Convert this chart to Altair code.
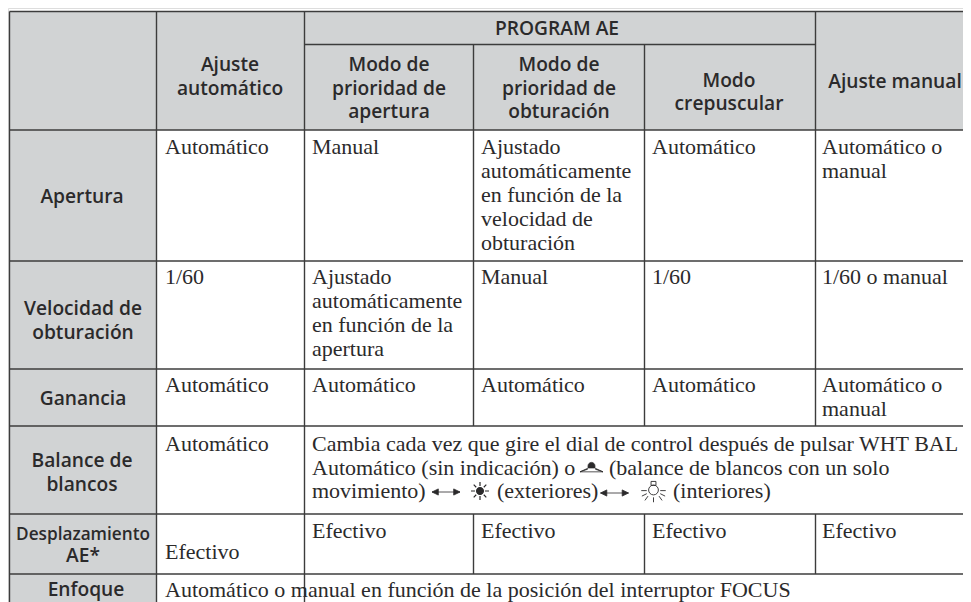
import altair as alt
import pandas as pd

SANS = "Open Sans"
SERIF = "Liberation Serif"
INK = "#2b2a2b"
GREY = "#d1d3d4"
LINE = "#3c3c3c"

# Table grid in picture units
col_edges = [9.5, 156.5, 304.5, 473.5, 644.5, 815.5, 963]
row_edges = [11.5, 44.5, 130, 261, 369, 426, 514, 574, 602]

shade_cells = [
    (col_edges[0], col_edges[1], row_edges[0], row_edges[8]),
    (col_edges[1], col_edges[6], row_edges[0], row_edges[2]),
]
h_rules = [
    (col_edges[0], col_edges[6], row_edges[0]),
    (col_edges[2], col_edges[5], row_edges[1]),
    (col_edges[0], col_edges[6], row_edges[2]),
    (col_edges[0], col_edges[6], row_edges[3]),
    (col_edges[0], col_edges[6], row_edges[4]),
    (col_edges[0], col_edges[6], row_edges[5]),
    (col_edges[0], col_edges[6], row_edges[6]),
    (col_edges[0], col_edges[6], row_edges[7]),
]
v_rules = [
    (col_edges[0], row_edges[0], row_edges[8]),
    (col_edges[1], row_edges[0], row_edges[8]),
    (col_edges[2], row_edges[0], row_edges[8]),
    (col_edges[3], row_edges[1], row_edges[5]),
    (col_edges[3], row_edges[6], row_edges[7]),
    (col_edges[4], row_edges[1], row_edges[5]),
    (col_edges[4], row_edges[6], row_edges[7]),
    (col_edges[5], row_edges[0], row_edges[5]),
    (col_edges[5], row_edges[6], row_edges[7]),
]

# header labels: text, centre x, baseline y
header_labels = [
    ("PROGRAM AE", 557, 35),
    ("Ajuste", 230, 71),
    ("automático", 230, 95),
    ("Modo de", 389, 71),
    ("prioridad de", 389, 95),
    ("apertura", 389, 118),
    ("Modo de", 559, 71),
    ("prioridad de", 559, 95),
    ("obturación", 559, 118),
    ("Modo", 729, 87),
    ("crepuscular", 729, 110),
    ("Ajuste manual", 895, 88),
    ("Apertura", 82, 203),
    ("Velocidad de", 83, 315),
    ("obturación", 83, 339),
    ("Ganancia", 83, 405),
    ("Balance de", 82, 467),
    ("blancos", 82, 491),
    ("AE*", 83, 562),
    ("Enfoque", 86, 596),
]
narrow_labels = [("Desplazamiento", 83, 540)]

# body labels: text, left x, baseline y
body_labels = [
    ("Automático", 165, 154),
    ("Manual", 312, 154),
    ("Ajustado", 481, 154),
    ("automáticamente", 481, 178),
    ("en función de la", 481, 202),
    ("velocidad de", 481, 226),
    ("obturación", 481, 250),
    ("Automático", 652, 154),
    ("Automático o", 822, 154),
    ("manual", 822, 178),
    ("1/60", 165, 284),
    ("Ajustado", 312, 284),
    ("automáticamente", 312, 308),
    ("en función de la", 312, 332),
    ("apertura", 312, 356),
    ("Manual", 481, 284),
    ("1/60", 652, 284),
    ("1/60 o manual", 822, 284),
    ("Automático", 165, 392),
    ("Automático", 312, 392),
    ("Automático", 481, 392),
    ("Automático", 652, 392),
    ("Automático o", 822, 392),
    ("manual", 822, 416),
    ("Automático", 165, 451),
    ("Cambia cada vez que gire el dial de control después de pulsar WHT BAL", 312, 451),
    ("Automático (sin indicación) o", 312, 475),
    ("(balance de blancos con un solo", 609, 475),
    ("movimiento)", 312, 498),
    ("(exteriores)", 497, 498),
    ("(interiores)", 673, 498),
    ("Efectivo", 312, 538),
    ("Efectivo", 481, 538),
    ("Efectivo", 652, 538),
    ("Efectivo", 822, 538),
    ("Efectivo", 165, 559),
    ("Automático o manual en función de la posición del interruptor FOCUS", 165, 597),
]

# icon positions: centre x, centre y
arrow_pos = [(446, 492), (614.5, 493)]
sun_pos = [(480, 491)]
bulb_pos = [(653.5, 490)]
wb_pos = [(591.5, 467)]

ARROW = "M-1,0H1M-1,0L-0.55,-0.22L-0.55,0.22ZM1,0L0.55,-0.22L0.55,0.22Z"
SUN = ("M-0.38,0A0.38,0.38 0 1,0 0.38,0A0.38,0.38 0 1,0 -0.38,0Z"
       "M0,-1V-0.55M0,0.55V1M-1,0H-0.55M0.55,0H1"
       "M-0.7,-0.7L-0.42,-0.42M0.42,0.42L0.7,0.7M-0.7,0.7L-0.42,0.42M0.42,-0.42L0.7,-0.7")
BULB = ("M-0.4,0A0.4,0.4 0 1,0 0.4,0A0.4,0.4 0 1,0 -0.4,0Z"
        "M-0.2,-0.7H0.2V-0.38H-0.2Z"
        "M0,0.6V1M-1,0.05H-0.55M0.55,0.05H1"
        "M-0.45,0.5L-0.7,0.85M0.45,0.5L0.7,0.85M-0.55,0.3L-0.95,0.5M0.55,0.3L0.95,0.5")
WB = ("M-0.3,-0.1A0.3,0.3 0 1,1 0.3,-0.1L0.3,0.08H-0.3Z"
      "M-1,0.42L-0.35,0.12L-0.35,0.2ZM-1,0.42H1M1,0.42L0.35,0.12L0.35,0.2Z")

xs = alt.Scale(domain=[8, 963], range=[0, 955], nice=False, zero=False)
ys = alt.Scale(domain=[8, 602], range=[0, 594], nice=False, zero=False)
X = lambda f: alt.X(f, type="quantitative", scale=xs, axis=None)
Y = lambda f: alt.Y(f, type="quantitative", scale=ys, axis=None)

shade = alt.Chart(pd.DataFrame(shade_cells, columns=["x0", "x1", "y0", "y1"])).mark_rect(
    color=GREY
).encode(x=X("x0"), x2="x1", y=Y("y0"), y2="y1")

hr = alt.Chart(pd.DataFrame(h_rules, columns=["x0", "x1", "y"])).mark_rule(
    color=LINE, strokeWidth=1.4
).encode(x=X("x0"), x2="x1", y=Y("y"))

vr = alt.Chart(pd.DataFrame(v_rules, columns=["x", "y0", "y1"])).mark_rule(
    color=LINE, strokeWidth=1.4
).encode(x=X("x"), y=Y("y0"), y2="y1")


def labels(rows, **kw):
    return alt.Chart(pd.DataFrame(rows, columns=["t", "x", "y"])).mark_text(
        color=INK, baseline="alphabetic", **kw
    ).encode(x=X("x"), y=Y("y"), text="t:N")


def icon(rows, path, size, filled, width=1.0):
    return alt.Chart(pd.DataFrame(rows, columns=["x", "y"])).mark_point(
        shape=path, size=size, filled=filled, stroke=INK, strokeWidth=width,
        fill=INK if filled else "transparent", opacity=1,
    ).encode(x=X("x"), y=Y("y"))


layers = [
    shade, hr, vr,
    labels(header_labels, font=SANS, fontSize=19.2, fontWeight=600, align="center"),
    labels(narrow_labels, font=SANS, fontSize=17.2, fontWeight=600, align="center"),
    labels(body_labels, font=SERIF, fontSize=22, align="left"),
    icon(arrow_pos, ARROW, 784, True, 0.8),
    icon(sun_pos, SUN, 324, True, 1.2),
    icon(bulb_pos, BULB, 600, False, 0.9),
    icon(wb_pos, WB, 529, True, 0.8),
]

chart = alt.layer(*layers).properties(
    width=955, height=594, padding=0,
    autosize=alt.AutoSizeParams(type="none"),
).configure_view(stroke=None).configure(background="#ffffff")

chart.save("out.html", embed_options={"renderer": "svg", "actions": False})
